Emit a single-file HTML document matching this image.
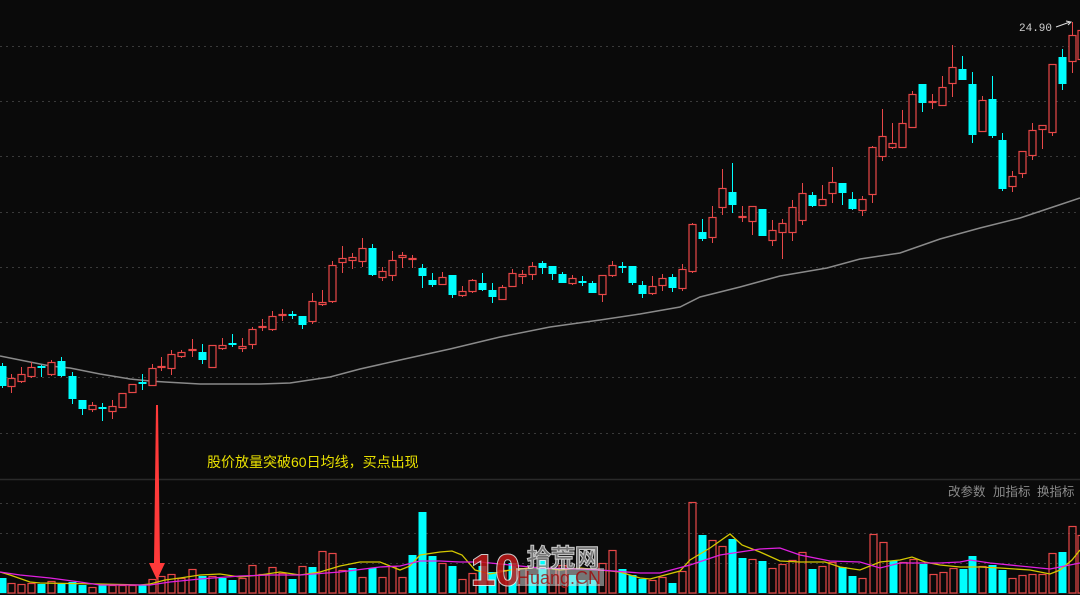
<!DOCTYPE html>
<html><head><meta charset="utf-8"><style>
html,body{margin:0;padding:0;background:#0a0a0a;}
svg{display:block;}
</style></head><body>
<svg id="s" width="1080" height="595" xmlns="http://www.w3.org/2000/svg" style="background:#0a0a0a">
<g stroke="#3a3a3a" stroke-width="1" stroke-dasharray="2,4">
<line x1="0" y1="46.5" x2="1080" y2="46.5"/><line x1="0" y1="101.5" x2="1080" y2="101.5"/>
<line x1="0" y1="156.5" x2="1080" y2="156.5"/><line x1="0" y1="212.5" x2="1080" y2="212.5"/>
<line x1="0" y1="267.5" x2="1080" y2="267.5"/><line x1="0" y1="322.5" x2="1080" y2="322.5"/>
<line x1="0" y1="377.5" x2="1080" y2="377.5"/><line x1="0" y1="433.5" x2="1080" y2="433.5"/>
<line x1="0" y1="503.5" x2="1080" y2="503.5"/><line x1="0" y1="533.5" x2="1080" y2="533.5"/>
<line x1="0" y1="563.5" x2="1080" y2="563.5"/>
</g>
<line x1="0" y1="479.5" x2="1080" y2="479.5" stroke="#2a2a2a" stroke-width="1.5"/>
<line x1="0" y1="593.5" x2="1080" y2="593.5" stroke="#222" stroke-width="1"/>
<polyline fill="none" stroke="#8a8a8a" stroke-width="1.5" points="0,356 20,360 50,366 70,368 100,374 130,379 150,381 165,382 200,384 260,384 290,383 310,380 330,377 360,369 400,360 450,349 500,337 550,327 600,320 640,314 680,307 700,297 740,287 780,276 827,268 860,259 900,253 940,239 980,228 1020,218 1050,208 1080,198"/>
<g id="candles"></g>
<g id="vols"></g>
<polyline fill="none" stroke="#d4c800" stroke-width="1.3" points="0,572 10,575 30,582 40,583 100,584 140,585 150,584 165,580 180,578 200,575 220,574 240,577 260,575 280,572 300,575 320,572 340,566 360,562 380,562 390,566 400,570 410,566 420,555 440,552 452,551 462,555 475,570 490,574 510,570 540,567 560,570 580,568 600,570 620,572 640,578 650,579 680,571 690,560 710,548 730,534 742,545 760,552 780,561 800,562 825,562 840,567 860,570 880,562 900,560 912,557 925,562 940,565 960,567 980,567 1000,568 1030,570 1050,574 1060,570 1072,560 1080,550"/>
<polyline fill="none" stroke="#e020e0" stroke-width="1.3" points="0,572 20,575 50,578 80,582 100,585 150,585 170,582 200,579 240,576 270,575 300,575 340,572 380,567 400,566 420,561 440,561 460,562 480,562 540,568 580,569 600,570 640,573 660,573 690,565 720,555 760,549 780,548 800,555 830,561 860,562 880,568 900,563 940,563 960,562 970,560 990,563 1020,566 1050,569 1080,563"/>
<polygon points="156,405 158,405 160,563 165,563 157,580 149,563 154,563" fill="#ff3a3a"/>
<text x="207" y="467" fill="#e8e000" font-size="14" font-family="Liberation Sans,Noto Sans CJK SC,sans-serif">股价放量突破60日均线，买点出现</text>
<text x="1019" y="31" fill="#d0d0d0" font-size="11" font-family="Liberation Mono,monospace">24.90</text>
<line x1="1056" y1="27" x2="1070" y2="22" stroke="#ddd" stroke-width="1"/>
<polyline points="1066,21 1071,22 1068,25" fill="none" stroke="#ddd"/>
<text x="948" y="496" fill="#8a8a8a" font-size="12.5" font-family="Liberation Sans,Noto Sans CJK SC,sans-serif">改参数</text>
<text x="993" y="496" fill="#8a8a8a" font-size="12.5" font-family="Liberation Sans,Noto Sans CJK SC,sans-serif">加指标</text>
<text x="1037" y="496" fill="#8a8a8a" font-size="12.5" font-family="Liberation Sans,Noto Sans CJK SC,sans-serif">换指标</text>
<g id="logo" opacity="0.85" font-family="Liberation Sans,Noto Sans CJK SC,sans-serif">
<text x="471" y="585" fill="#c01818" stroke="#eee" stroke-width="2" paint-order="stroke" font-size="44" font-weight="bold">10</text>
<text x="527" y="566" fill="#888" stroke="#eee" stroke-width="2" paint-order="stroke" font-size="24">拾荒网</text>
<rect x="516" y="568" width="88" height="18" fill="#ddd" opacity="0.6"/>
<text x="517" y="584" fill="#b02020" font-size="18">Huang.CN</text>
</g>
</svg>
<script>
var C=[[2,'c',366,386,363,388],[11,'r',378,387,374,393],[21,'r',374,382,367,383],[31,'r',367,377,362,378],[41,'c',366,368,365,377],[51,'r',362,375,360,376],[61,'c',361,376,357,377],[72,'c',376,399,372,404],[82,'c',400,409,400,415],[92,'r',405,410,402,412],[102,'c',407,409,403,421],[112,'r',406,412,400,419],[122,'r',393,408,393,408],[132,'r',384,393,384,393],[142,'c',382,384,374,390],[152,'r',368,386,364,386],[161,'r',366,368,357,371],[171,'r',354,369,350,375],[181,'r',352,357,350,358],[192,'r',349,351,339,357],[202,'c',352,360,344,364],[212,'r',345,368,345,368],[222,'r',345,349,338,350],[232,'c',343,345,334,347],[242,'r',346,349,338,352],[252,'r',329,345,327,349],[262,'r',326,328,319,331],[272,'r',316,330,311,331],[282,'r',314,316,309,321],[292,'c',314,316,311,319],[302,'c',316,325,316,329],[312,'r',301,322,293,324],[322,'r',302,305,290,306],[332,'r',265,302,261,303],[342,'r',258,263,246,273],[352,'r',257,261,253,269],[362,'r',248,262,238,267],[372,'c',248,275,244,276],[382,'r',271,278,267,281],[392,'r',260,276,251,281],[402,'r',255,258,252,268],[412,'r',258,260,255,268],[422,'c',268,276,264,288],[432,'c',280,285,273,287],[442,'r',277,285,272,285],[452,'c',275,295,275,298],[462,'r',291,296,286,297],[472,'r',280,292,279,293],[482,'c',283,290,273,291],[492,'c',290,297,283,303],[502,'r',287,300,285,300],[512,'r',273,287,269,287],[522,'r',274,277,270,284],[532,'r',266,275,262,280],[542,'c',263,268,261,274],[552,'c',266,274,266,280],[562,'c',274,283,272,283],[572,'r',278,284,275,285],[582,'c',281,283,276,286],[592,'c',283,293,281,293],[602,'r',275,295,275,302],[612,'r',265,276,261,277],[622,'c',266,268,262,273],[632,'c',266,283,266,285],[642,'c',285,294,281,298],[652,'r',286,294,276,295],[662,'r',278,286,274,291],[672,'c',277,288,274,292],[682,'r',269,289,264,291],[692,'r',224,272,223,273],[702,'c',232,239,219,241],[712,'r',217,238,206,243],[722,'r',188,208,169,215],[732,'c',192,205,163,213],[742,'r',216,218,206,222],[752,'r',206,222,206,235],[762,'c',209,236,209,236],[772,'r',230,241,220,246],[782,'r',223,233,219,259],[792,'r',207,233,200,241],[802,'r',193,221,183,225],[812,'c',195,206,192,207],[822,'r',199,206,185,206],[832,'r',182,194,167,203],[842,'c',183,193,183,205],[852,'c',199,209,192,210],[862,'r',199,211,196,216],[872,'r',147,195,146,203],[882,'r',136,157,109,161],[892,'r',143,148,123,149],[902,'r',123,148,110,148],[912,'r',94,128,91,128],[922,'c',84,103,84,112],[932,'r',101,103,94,109],[942,'r',87,106,76,106],[952,'r',67,84,45,97],[962,'c',69,80,56,80],[972,'c',84,135,72,143],[982,'r',100,132,96,132],[992,'c',99,136,76,138],[1002,'c',140,189,133,191],[1012,'r',176,187,171,192],[1022,'r',151,174,151,178],[1032,'r',130,156,123,160],[1042,'r',125,130,125,149],[1052,'r',64,133,64,136],[1062,'c',57,84,49,90],[1072,'r',35,62,22,73],[1081,'r',30,60,22,70]];
var V=[[2,'c',578],[11,'r',583],[21,'r',584],[31,'r',583],[41,'c',584],[51,'r',581],[61,'c',584],[72,'c',582],[82,'c',585],[92,'r',587],[102,'c',585],[112,'r',585],[122,'r',585],[132,'r',585],[142,'c',585],[152,'r',579],[161,'r',576],[171,'r',574],[181,'r',578],[192,'r',569],[202,'c',576],[212,'r',576],[222,'c',578],[232,'c',580],[242,'r',578],[252,'r',565],[262,'r',574],[272,'r',567],[282,'r',573],[292,'c',579],[302,'r',566],[312,'c',567],[322,'r',551],[332,'r',553],[342,'r',570],[352,'c',568],[362,'r',577],[372,'c',568],[382,'r',577],[392,'r',566],[402,'r',577],[412,'c',555],[422,'c',512],[432,'c',556],[442,'r',563],[452,'c',566],[462,'r',579],[472,'r',573],[482,'c',566],[492,'c',572],[502,'r',570],[512,'c',563],[522,'r',568],[532,'c',575],[542,'c',560],[552,'r',568],[562,'r',565],[572,'c',575],[582,'c',580],[592,'c',580],[602,'r',563],[612,'r',550],[622,'c',569],[632,'c',575],[642,'c',579],[652,'r',580],[662,'r',577],[672,'c',583],[682,'r',571],[692,'r',502],[702,'c',535],[712,'r',540],[722,'r',546],[732,'c',539],[742,'c',558],[752,'r',559],[762,'c',561],[772,'r',568],[782,'r',564],[792,'r',560],[802,'r',552],[812,'c',569],[822,'r',566],[832,'r',562],[842,'c',567],[852,'c',576],[862,'r',578],[873,'r',534],[883,'r',542],[893,'c',561],[903,'r',562],[913,'r',559],[923,'c',564],[933,'r',574],[943,'r',572],[953,'r',568],[963,'c',569],[972,'c',556],[982,'r',566],[992,'c',565],[1002,'c',570],[1012,'r',578],[1022,'r',575],[1032,'r',574],[1042,'r',574],[1052,'r',553],[1062,'c',552],[1072,'r',526],[1081,'r',535]];
var NS='http://www.w3.org/2000/svg',R='#e84848',CY='#00ffff';
function el(t,a,p){var e=document.createElementNS(NS,t);for(var k in a)e.setAttribute(k,a[k]);p.appendChild(e);}
var g=document.getElementById('candles');
C.forEach(function(d){var x=d[0],c=d[1]=='r'?R:CY,t=d[2],b=d[3],h=d[4],l=d[5];if(b-t<2){t-=0.5;b=t+2;}
el('line',{x1:x+.5,x2:x+.5,y1:h,y2:t,stroke:c,'stroke-width':1},g);
el('line',{x1:x+.5,x2:x+.5,y1:b,y2:l,stroke:c,'stroke-width':1},g);
if(d[1]=='r')el('rect',{x:x-3,y:t+.5,width:7,height:b-t-1,fill:'#0a0a0a',stroke:c,'stroke-width':1.2},g);
else el('rect',{x:x-3.5,y:t,width:8,height:b-t,fill:c},g);});
var gv=document.getElementById('vols');
V.forEach(function(d){var x=d[0],t=d[2];
if(d[1]=='r')el('rect',{x:x-3,y:t+.5,width:7,height:593-t-.5,fill:'none',stroke:R,'stroke-width':1.2},gv);
else el('rect',{x:x-3.5,y:t,width:8,height:593-t,fill:CY},gv);});
var s=document.getElementById('s');
var lines=s.querySelectorAll('polyline');s.appendChild(lines[1]);s.appendChild(lines[2]);
s.appendChild(s.querySelector('polygon'));
s.appendChild(document.getElementById('logo'));
</script>
</body></html>
